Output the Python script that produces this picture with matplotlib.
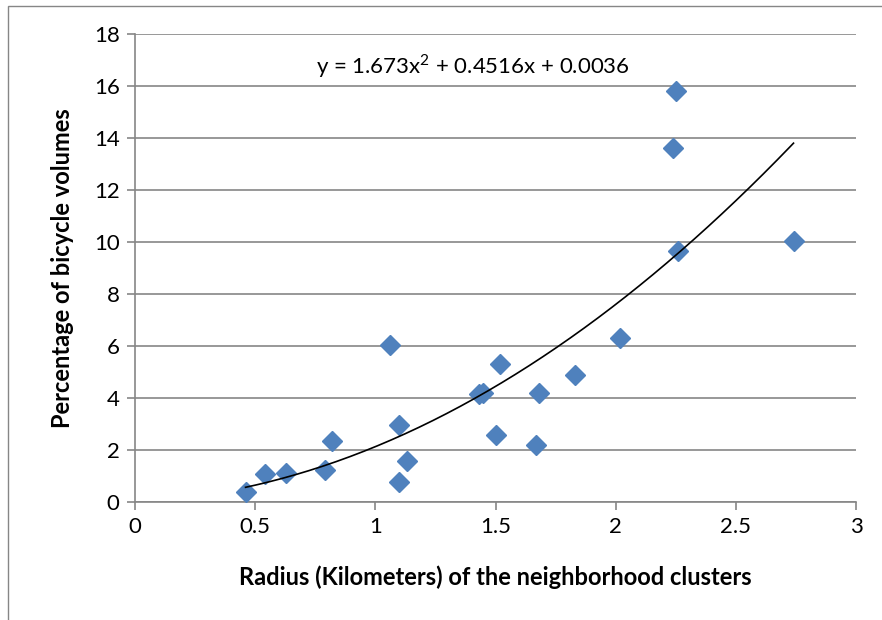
import numpy as np
import matplotlib
matplotlib.use("Agg")
import matplotlib.pyplot as plt
from matplotlib.patches import Rectangle

# radius of neighborhood clusters (km) vs percentage of bicycle volumes
radius = [0.46, 0.54, 0.63, 0.79, 0.82, 1.06, 1.10, 1.10, 1.13, 1.43, 1.45,
          1.50, 1.52, 1.68, 1.67, 1.83, 2.02, 2.25, 2.24, 2.26, 2.74]
volume = [0.38, 1.08, 1.12, 1.24, 2.33, 6.02, 0.78, 2.97, 1.58, 4.16, 4.18,
          2.58, 5.31, 4.20, 2.18, 4.90, 6.30, 15.80, 13.60, 9.65, 10.05]

# trend line coefficients (as printed on the chart)
coef = [1.673, 0.4516, 0.0036]
equation = "y = 1.673x$^{2}$ + 0.4516x + 0.0036"

x_ticks = [0, 0.5, 1, 1.5, 2, 2.5, 3]
x_tick_labels = ["0", "0.5", "1", "1.5", "2", "2.5", "3"]
y_ticks = list(range(0, 19, 2))

plt.rcParams['font.family'] = ['Lato', 'DejaVu Sans']
plt.rcParams['mathtext.fontset'] = 'custom'
plt.rcParams['mathtext.rm'] = 'Lato'
grey = '#868686'

fig = plt.figure(figsize=(8.82, 6.2), dpi=100)
ax = fig.add_axes([135 / 882, 1 - 502 / 620, (856 - 135) / 882, (502 - 34) / 620])

# outer chart frame (cropped at right and bottom)
fig.patches.append(Rectangle((8 / 882, -0.1), 1.2, 1.1 - 6 / 620,
                             transform=fig.transFigure, fill=False,
                             edgecolor=grey, linewidth=1.0))

ax.set_xlim(0, 3)
ax.set_ylim(0, 18)
ax.set_xticks(x_ticks)
ax.set_xticklabels(x_tick_labels)
ax.set_yticks(y_ticks)

ax.grid(axis='y', color=grey, linewidth=1.2)
ax.set_axisbelow(True)
for side in ['top', 'right']:
    ax.spines[side].set_visible(False)
for side in ['left', 'bottom']:
    ax.spines[side].set_color(grey)
    ax.spines[side].set_linewidth(1.2)
ax.tick_params(colors=grey, labelcolor='black', labelsize=16, length=6, width=1.2, direction='out', pad=5)

ax.plot(radius, volume, linestyle='none', marker='D', markersize=10,
        color='#4F81BD', markeredgecolor='#4F81BD', zorder=3)

xs = np.linspace(min(radius), max(radius), 200)
ax.plot(xs, np.polyval(coef, xs), color='black', linewidth=1.2, zorder=4)

ax.text(1.405, 16.75, equation, ha='center', va='center', fontsize=16)

ax.set_xlabel("Radius (Kilometers) of the neighborhood clusters", fontsize=17,
              fontweight='bold', labelpad=20)
ax.set_ylabel("Percentage of bicycle volumes", fontsize=17, fontweight='bold', labelpad=14)

fig.savefig("out.png", dpi=100)
